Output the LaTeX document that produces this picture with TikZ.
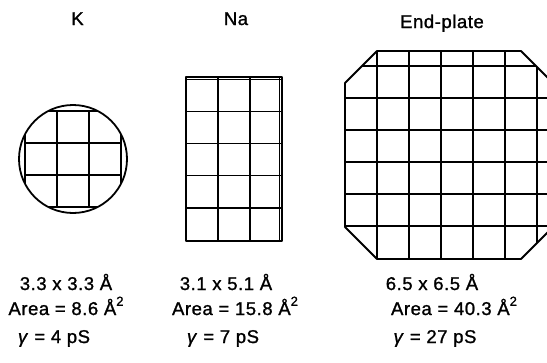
\documentclass[tikz,border=0pt]{standalone}
\usepackage{fontspec}
\setmainfont{Liberation Sans}
\newfontfamily\labfont[LetterSpace=3,FakeBold=1.2]{Liberation Sans}
\newcommand{\sqA}{Å\raisebox{0.5em}{\fontsize{13}{13}\selectfont 2}}
\begin{document}
\begin{tikzpicture}[x=1pt,y=-1pt,line cap=round,line join=round]
\tikzset{
  gl/.style={line width=1.4pt},
  ol/.style={line width=1.8pt},
  lbl/.style={font=\fontsize{18.5}{18.5}\selectfont\labfont, inner sep=0pt, anchor=base},
}
\useasboundingbox (0,0) rectangle (547,362);
\clip (0,0) rectangle (547,362);
% ---------- K channel ----------
\begin{scope}
  \clip (73,159) circle[radius=54];
  \foreach \d in {-48,-16,16,48} {
    \draw[gl] ({73+(\d)},111) -- ({73+(\d)},207);
    \draw[gl] (25,{159+(\d)}) -- (121,{159+(\d)});
  }
\end{scope}
\draw[ol] (73,159) circle[radius=54];
% ---------- Na channel ----------
\foreach \x in {218,250} \draw[gl] (\x,77) -- (\x,241);
\foreach \y in {111.5,143.5,175.5,208} \draw[gl] (186,\y) -- (282,\y);
\draw[ol] (186,77) rectangle (282,241);
\draw[line width=0.9pt] (186,79.5) -- (282,79.5);
\draw[line width=0.9pt] (279.5,77) -- (279.5,241);
% ---------- End-plate channel ----------
\begin{scope}
  \clip (377,51) -- (521,51) -- (553,83) -- (553,227) -- (521,259)
        -- (377,259) -- (345,227) -- (345,83) -- cycle;
  \foreach \x in {377,409,441,473,505,537} \draw[gl] (\x,40) -- (\x,270);
  \foreach \y in {66,98,130,162,194,226} \draw[gl] (335,\y) -- (560,\y);
\end{scope}
\draw[ol] (377,51) -- (521,51) -- (553,83) -- (553,227) -- (521,259)
      -- (377,259) -- (345,227) -- (345,83) -- cycle;
% ---------- titles ----------
\node[lbl] (tK)  at (77.5,25) {K};
\node[lbl] (tNa) at (236,25)  {Na};
\node[lbl] (tE)  at (442,28)  {End-plate};
% ---------- K labels ----------
\node[lbl] (kdim)  at (66,290)  {3.3 x 3.3 Å};
\node[lbl] (karea) at (66,315)  {Area = 8.6 \sqA};
\node[lbl] (kg)    at (54,343)  {\textit{γ} = 4 pS};
% ---------- Na labels ----------
\node[lbl] (ndim)  at (226,290) {3.1 x 5.1 Å};
\node[lbl] (narea) at (235,315) {Area = 15.8 \sqA};
\node[lbl] (ng)    at (223,343) {\textit{γ} = 7 pS};
% ---------- End-plate labels ----------
\node[lbl] (edim)  at (432,290) {6.5 x 6.5 Å};
\node[lbl] (earea) at (454,315) {Area = 40.3 \sqA};
\node[lbl] (eg)    at (435,343) {\textit{γ} = 27 pS};
\end{tikzpicture}
\end{document}
